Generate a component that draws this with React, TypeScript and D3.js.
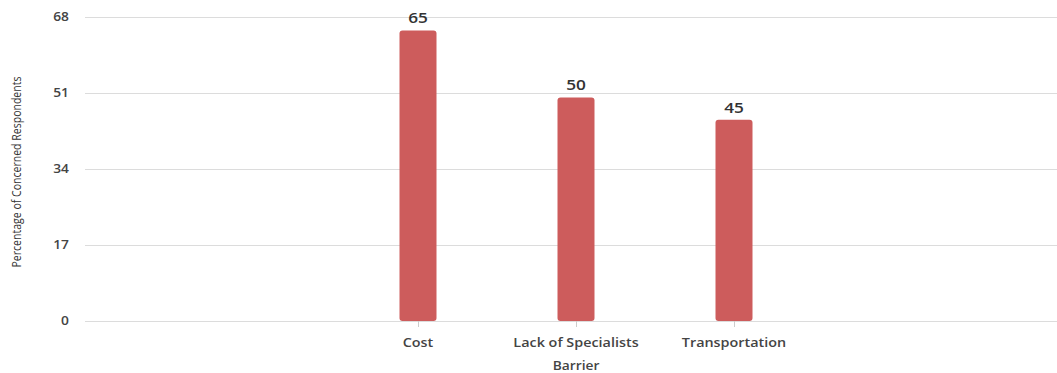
import React from "react";
import * as d3 from "d3";

const categories: string[] = ["Cost", "Lack of Specialists", "Transportation"];
const values: number[] = [65, 50, 45];
const yTicks: number[] = [0, 17, 34, 51, 68];
const yTitle = "Percentage of Concerned Respondents";
const xTitle = "Barrier";

const W = 1057;
const H = 373;
const SX = 1.15;

export default function App() {
  const y = d3.scaleLinear().domain([0, 68]).range([321, 17]);
  const x = d3.scalePoint<string>().domain(categories).range([418, 734]);
  const barW = 37;
  const font = "'Open Sans', 'Noto Sans', sans-serif";
  return (
    <svg
      width={W}
      height={H}
      style={{ position: "fixed", left: 0, top: 0, display: "block", background: "#fff" }}
      fontFamily={font}
    >
      {yTicks.map((t) => (
        <g key={t}>
          <line x1={85} x2={W} y1={y(t) + 0.5} y2={y(t) + 0.5} stroke="#dcdcdc" strokeWidth={1} />
          <text
            transform={`translate(69,${y(t)}) scale(${SX},1)`}
            dy="0.35em"
            textAnchor="end"
            fontSize={12}
            fontWeight={600}
            fill="#444"
          >
            {t}
          </text>
        </g>
      ))}
      {categories.map((c, i) => (
        <g key={c}>
          <path
            d={(() => {
              const x0 = (x(c) as number) - barW / 2;
              const y0 = y(values[i]);
              const y1 = y(0);
              const r = 3;
              return `M${x0},${y1 - r}V${y0 + r}Q${x0},${y0} ${x0 + r},${y0}H${x0 + barW - r}Q${x0 + barW},${y0} ${x0 + barW},${y0 + r}V${y1 - r}Q${x0 + barW},${y1} ${x0 + barW - r},${y1}H${x0 + r}Q${x0},${y1} ${x0},${y1 - r}Z`;
            })()}
            fill="#cd5c5c"
          />
          <line x1={(x(c) as number) + 0.5} x2={(x(c) as number) + 0.5} y1={y(0)} y2={y(0) + 6} stroke="#cccccc" />
          <text
            transform={`translate(${x(c)},${y(values[i]) - 7}) scale(${SX},1)`}
            textAnchor="middle"
            fontSize={15}
            fontWeight={600}
            fill="#333"
          >
            {values[i]}
          </text>
          <text
            transform={`translate(${x(c)},347) scale(${SX},1)`}
            textAnchor="middle"
            fontSize={12.5}
            fontWeight={600}
            fill="#444"
          >
            {c}
          </text>
        </g>
      ))}
      <text
        transform={`translate(576,370) scale(${SX},1)`}
        textAnchor="middle"
        fontSize={12}
        fontWeight={600}
        fill="#444"
      >
        {xTitle}
      </text>
      <text
        transform="translate(21,172) rotate(-90)"
        textAnchor="middle"
        fontSize={12}
        fill="#333"
        textLength={191}
        lengthAdjust="spacingAndGlyphs"
      >
        {yTitle}
      </text>
    </svg>
  );
}
